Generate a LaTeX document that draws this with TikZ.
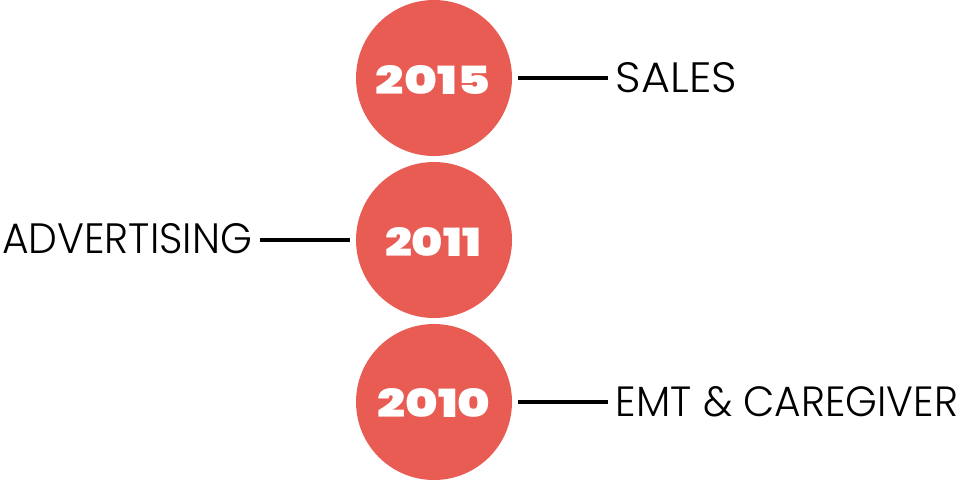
\documentclass[tikz,border=0pt]{standalone}
\usepackage{fontspec}
\newfontfamily\labelfont{Poppins Light}
\newfontfamily\yearfont{Poppins Black}
\definecolor{coral}{HTML}{E85C53}
\begin{document}
\begin{tikzpicture}[x=1pt,y=-1pt,
  yearcircle/.style={circle,fill=coral,minimum size=156pt,inner sep=0pt},
  yeartext/.style={text=white,inner sep=0pt,font=\yearfont},
  lbl/.style={inner sep=0pt,font=\labelfont,text=black},
  conn/.style={line width=3.3pt,black}]
\useasboundingbox (0,0) rectangle (960,482);
\node[yearcircle] (c1) at (434,78) {};
\node[yearcircle] (c2) at (434,240) {};
\node[yearcircle] (c3) at (434,402) {};
\node[yeartext] (y1) at (433,79.5) {\resizebox{114pt}{29pt}{2015}};
\node[yeartext] (y2) at (433,241.5) {\resizebox{96pt}{29pt}{2011}};
\node[yeartext] (y3) at (434,402.5) {\resizebox{113pt}{29pt}{2010}};
\node[lbl] (t1) at (676.5,78) {\resizebox{121pt}{30pt}{SALES}};
\node[lbl] (t2) at (127,239) {\resizebox{250pt}{30pt}{ADVERTISING}};
\node[lbl] (t3) at (787,402) {\resizebox{342pt}{30pt}{EMT \& CAREGIVER}};
\draw[conn] ([xshift=6pt]c1.east) -- ([xshift=-8pt]t1.west |- c1.east);
\draw[conn] ([xshift=-6pt]c2.west) -- ([xshift=8pt]t2.east |- c2.west);
\draw[conn] ([xshift=6pt]c3.east) -- ([xshift=-8pt]t3.west |- c3.east);
\end{tikzpicture}
\end{document}
